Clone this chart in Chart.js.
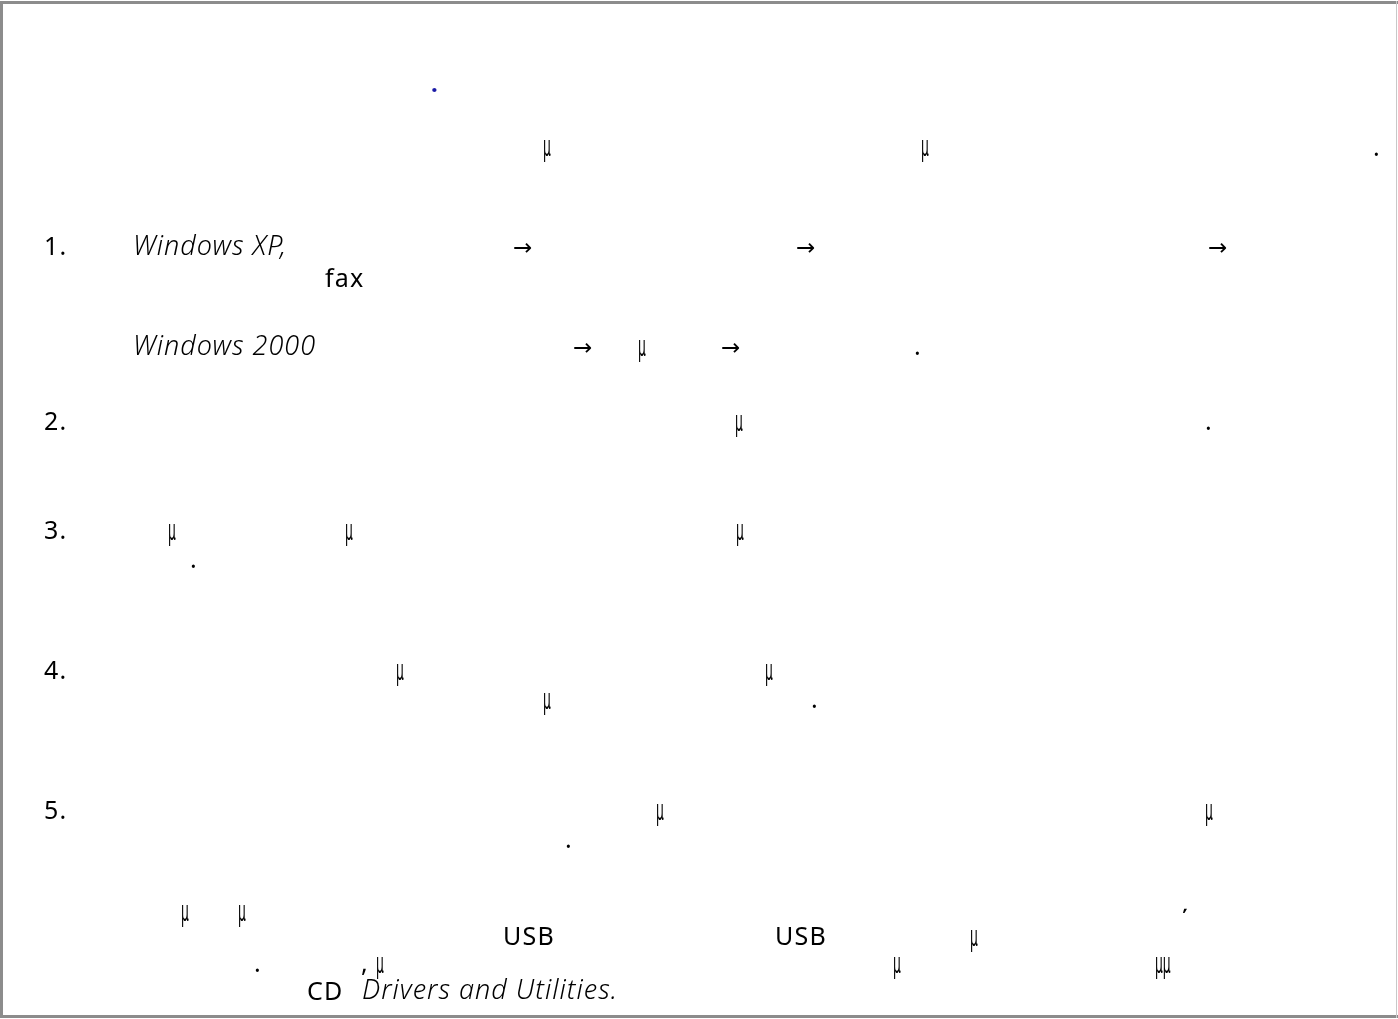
<!DOCTYPE html>
<html>
<head>
<meta charset="utf-8">
<script src="https://cdn.jsdelivr.net/npm/chart.js@4"></script>
<style>
  html, body { margin: 0; padding: 0; background: #fff; }
  #page { display: block; }
</style>
</head>
<body>
<canvas id="page" width="1398" height="1019"></canvas>
<script>
// text fragments that survived rendering: [x, baseline, text, style]
const headerFragments = [
  [431, 92, '.', 'link'],
  [543, 156, 'μ', 'mu'],
  [921, 156, 'μ', 'mu'],
  [1373, 156, '.', 'plain']
];

const stepLabels = ['1.', '2.', '3.', '4.', '5.'];
const stepBaselines = [255, 430, 539, 679, 819];

const stepFragments = [
  [133, 255, 'Windows XP,', 'italic'],
  [513, 255, '→', 'arrow'],
  [796, 255, '→', 'arrow'],
  [1208, 255, '→', 'arrow'],
  [325, 287, 'fax', 'plain'],
  [133, 355, 'Windows 2000', 'italic'],
  [573, 355, '→', 'arrow'],
  [638, 356, 'μ', 'mu'],
  [721, 355, '→', 'arrow'],
  [914, 355, '.', 'plain'],
  [735, 431, 'μ', 'mu'],
  [1205, 430, '.', 'plain'],
  [168, 540, 'μ', 'mu'],
  [345, 540, 'μ', 'mu'],
  [736, 540, 'μ', 'mu'],
  [190, 568, '.', 'plain'],
  [396, 680, 'μ', 'mu'],
  [765, 680, 'μ', 'mu'],
  [543, 709, 'μ', 'mu'],
  [811, 708, '.', 'plain'],
  [656, 820, 'μ', 'mu'],
  [1205, 820, 'μ', 'mu'],
  [565, 848, '.', 'plain']
];

const noteFragments = [
  [181, 921, 'μ', 'mu'],
  [238, 921, 'μ', 'mu'],
  [1182, 929, '΄', 'plain'],
  [503, 945, 'USB', 'plain'],
  [775, 945, 'USB', 'plain'],
  [970, 946, 'μ', 'mu'],
  [254, 972, '.', 'plain'],
  [361, 972, ',', 'plain'],
  [376, 973, 'μ', 'mu'],
  [893, 973, 'μ', 'mu'],
  [1155, 973, 'μμ', 'mu'],
  [307, 1000, 'CD', 'plain'],
  [362, 999, 'Drivers and Utilities.', 'italic']
];

const fonts = {
  plain: { font: '25px "Noto Sans", "DejaVu Sans", sans-serif', spacing: '1.2px', color: '#000' },
  link: { font: 'bold 24px "Noto Sans", "DejaVu Sans", sans-serif', spacing: '0px', color: '#1a1aa6' },
  italic: { font: 'italic 300 27px "Noto Sans", "DejaVu Sans", sans-serif', spacing: '1px', color: '#000' },
  arrow: { font: '23px "DejaVu Sans", sans-serif', spacing: '0px', color: '#000' },
  mu: { font: '25px "Liberation Sans Narrow", "DejaVu Sans Condensed", sans-serif', spacing: '0px', color: '#000' }
};

const allFragments = headerFragments
  .concat(stepLabels.map((label, i) => [44, stepBaselines[i], label, 'plain']))
  .concat(stepFragments)
  .concat(noteFragments);

const pageText = {
  id: 'pageText',
  beforeDraw(chart) {
    const { ctx, width, height } = chart;
    ctx.save();
    ctx.fillStyle = '#fff';
    ctx.fillRect(0, 0, width, height);
    // page frame
    ctx.fillStyle = '#8c8c8c';
    ctx.fillRect(0, 1, width, 3);
    ctx.fillRect(0, 1, 3, height - 2);
    ctx.fillRect(0, height - 4, width, 3);
    ctx.fillStyle = '#c8c8c8';
    ctx.fillRect(width - 2, 1, 1, height - 2);
    ctx.restore();
  },
  afterDraw(chart) {
    const { ctx } = chart;
    const xs = chart.scales.x;
    const ys = chart.scales.y;
    ctx.save();
    ctx.textBaseline = 'alphabetic';
    ctx.textAlign = 'left';
    allFragments.forEach(([x, y, text, style]) => {
      const f = fonts[style];
      ctx.font = f.font;
      ctx.letterSpacing = f.spacing;
      ctx.fillStyle = f.color;
      const px = xs.getPixelForValue(x);
      const py = ys.getPixelForValue(y);
      if (style === 'mu') {
        ctx.save();
        ctx.translate(px, py);
        ctx.scale(0.55, 1.1);
        ctx.fillText(text, 0, 0);
        ctx.restore();
      } else {
        ctx.fillText(text, px, py);
      }
    });
    ctx.restore();
  }
};

new Chart(document.getElementById('page'), {
  type: 'scatter',
  data: { datasets: [] },
  options: {
    responsive: false,
    animation: false,
    layout: { padding: 0 },
    plugins: { legend: { display: false }, tooltip: { enabled: false } },
    scales: {
      x: { type: 'linear', min: 0, max: 1398, display: false },
      y: { type: 'linear', min: 0, max: 1019, reverse: true, display: false }
    }
  },
  plugins: [pageText]
});
</script>
</body>
</html>
